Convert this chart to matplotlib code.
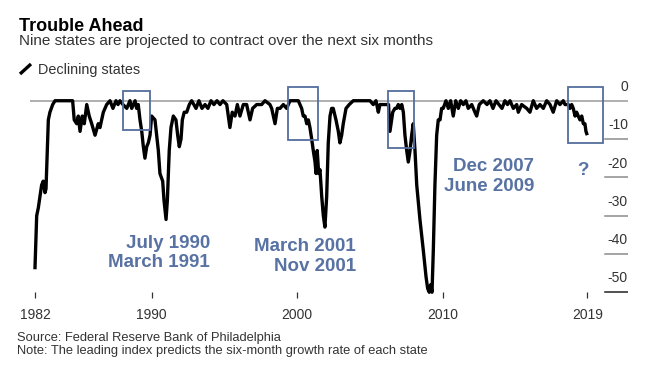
import matplotlib
matplotlib.use('Agg')
import matplotlib.pyplot as plt
import matplotlib.transforms as mtransforms
from matplotlib.patches import Rectangle

plt.rcParams['font.family'] = ['Liberation Sans', 'DejaVu Sans']

# ---------------- data ----------------
years = [
    1981.97, 1982.09, 1982.20, 1982.43, 1982.54, 1982.66, 1982.73, 1982.89, 1983.00, 1983.19,
    1983.35, 1984.56, 1984.67, 1984.84, 1984.95, 1985.07, 1985.22, 1985.36, 1985.53, 1985.70,
    1985.87, 1986.10, 1986.32, 1986.44, 1986.67, 1986.90, 1987.13, 1987.33, 1987.54, 1987.68,
    1987.81, 1988.02, 1988.28, 1988.50, 1988.62, 1988.85, 1988.96, 1989.07, 1989.19, 1989.31,
    1989.42, 1989.53, 1989.65, 1989.76, 1989.88, 1989.99, 1990.22, 1990.45, 1990.56, 1990.75,
    1990.84, 1990.98, 1991.07, 1991.20, 1991.32, 1991.48, 1991.66, 1991.78, 1991.89, 1992.01,
    1992.10, 1992.23, 1992.40, 1992.58, 1992.74, 1993.04, 1993.24, 1993.45, 1993.66, 1993.86,
    1994.07, 1994.27, 1994.48, 1994.69, 1994.89, 1995.15, 1995.37, 1995.53, 1995.72, 1995.88,
    1996.06, 1996.29, 1996.52, 1996.75, 1996.93, 1997.21, 1997.55, 1997.78, 1998.12, 1998.24,
    1998.47, 1998.63, 1998.81, 1999.04, 1999.27, 1999.50, 1999.84, 2000.07, 2000.30, 2000.41,
    2000.53, 2000.65, 2000.76, 2000.87, 2000.99, 2001.10, 2001.22, 2001.29, 2001.37, 2001.47,
    2001.56, 2001.68, 2001.79, 2001.90, 2002.02, 2002.13, 2002.25, 2002.36, 2002.47, 2002.66,
    2002.82, 2002.93, 2003.05, 2003.16, 2003.35, 2003.57, 2003.85, 2005.00, 2005.22, 2005.41,
    2005.57, 2005.68, 2006.03, 2006.27, 2006.37, 2006.56, 2006.71, 2006.83, 2006.94, 2007.06,
    2007.18, 2007.29, 2007.40, 2007.52, 2007.63, 2007.75, 2007.86, 2007.97, 2008.09, 2008.21,
    2008.43, 2008.66, 2008.85, 2008.96, 2009.07, 2009.17, 2009.26, 2009.35, 2009.46, 2009.58,
    2009.69, 2009.81, 2009.92, 2010.03, 2010.22, 2010.38, 2010.54, 2010.72, 2010.89, 2011.07,
    2011.23, 2011.41, 2011.59, 2011.75, 2011.99, 2012.21, 2012.33, 2012.51, 2012.78, 2013.04,
    2013.24, 2013.45, 2013.66, 2013.86, 2014.07, 2014.27, 2014.45, 2014.62, 2014.85, 2015.08,
    2015.19, 2015.42, 2015.77, 2015.99, 2016.22, 2016.45, 2016.68, 2016.91, 2017.14, 2017.37,
    2017.59, 2017.83, 2018.05, 2018.28, 2018.40, 2018.63, 2018.74, 2018.86, 2018.97, 2019.09,
    2019.20, 2019.31, 2019.43, 2019.55, 2019.66, 2019.77, 2019.84, 2019.93,
]
declining_states = [
    -44, -30, -28, -22, -21, -24, -23, -5, -3, -1,
    0, 0, -5, -6, -4, -8, -4, -6, -1, -4,
    -6, -9, -6, -7, -3, -1, 0, -2, 0, -1,
    0, -1, -2, 0, -2, 0, -2, -1, -5, -8,
    -12, -15, -12, -11, -9, -4, -5, -13, -19, -21,
    -26, -31, -26, -13, -7, -4, -5, -9, -12, -10,
    -5, -3, -3, -1, 0, -2, 0, -2, -1, -2,
    0, -1, 0, -1, 0, -1, -7, -3, -4, -1,
    -4, -1, -1, -5, -2, -1, -1, 0, -1, -2,
    -6, -2, -2, -1, -2, 0, 0, 0, -2, -4,
    -4, -6, -5, -7, -10, -13, -16, -19, -13, -19,
    -18, -25, -30, -33, -25, -11, -4, -2, -2, -5,
    -8, -11, -9, -6, -2, -1, 0, 0, -1, 0,
    -3, -1, -1, -1, -8, -3, -2, -2, -1, -2,
    -1, -3, -9, -13, -16, -13, -9, -6, -13, -22,
    -31, -39, -46, -49, -50, -48, -50, -39, -22, -9,
    -5, -5, -2, -2, 0, -2, 0, -4, 0, -2,
    0, -1, 0, -2, -1, -3, -4, -1, 0, -1,
    0, -2, 0, -1, -2, 0, -1, 0, -2, -1,
    -3, -1, -2, -3, 0, -2, -1, -2, 0, -1,
    -3, 0, -1, 0, -1, -1, -2, -1, -2, -4,
    -3, -4, -5, -4, -6, -6, -8, -9,
]

x_tick_years = [1982, 1990, 2000, 2010]
x_tick_labels = ['1982', '1990', '2000', '2010', '2019']
y_ticks = [0, -10, -20, -30, -40, -50]
y_tick_labels = ['0', '-10', '-20', '-30', '-40', '-50']

# highlighted windows: (start year, end year, top, bottom)
box_start = [1988.00, 1999.38, 2006.25, 2018.58]
box_end = [1989.88, 2001.44, 2008.04, 2021.03]
box_top = [2.6, 3.65, 2.6, 3.65]
box_bottom = [-7.7, -10.3, -12.4, -11.1]

recession_labels = ['July 1990\nMarch 1991', 'March 2001\nNov 2001', 'Dec 2007\nJune 2009', '?']

title = 'Trouble Ahead'
subtitle = 'Nine states are projected to contract over the next six months'
legend_label = 'Declining states'
source = 'Source: Federal Reserve Bank of Philadelphia'
note = 'Note: The leading index predicts the six-month growth rate of each state'

# ---------------- figure ----------------
W, H = 655, 371
fig = plt.figure(figsize=(W / 100, H / 100), dpi=100)
fig.patch.set_facecolor('white')


def fx(px):
    return px / W


def fy(py):
    return 1 - py / H


ax_left, ax_right, ax_top, ax_bottom = 30, 628, 85.4, 298.4
ax = fig.add_axes([fx(ax_left), fy(ax_bottom), (ax_right - ax_left) / W, (ax_bottom - ax_top) / H])
ax.set_xlim(1981.63, 2022.73)
ax.set_ylim(-51.6, 4.0)
for s in ax.spines.values():
    s.set_visible(False)

BLUE_TEXT = '#5872a3'
BLUE_BOX = '#536d9c'
GRID = '#8c8c8c'
TXT = '#333333'

# zero line and right-side tick lines
ax.axhline(0, xmin=0, xmax=1, color='#9a9a9a', lw=1.1, zorder=1)
for v in y_ticks[1:]:
    ax.axhline(v, xmin=(605 - ax_left) / (ax_right - ax_left), xmax=1,
               color=('#222222' if v == y_ticks[-1] else GRID), lw=1.1, zorder=1)

trans = mtransforms.blended_transform_factory(ax.transAxes, ax.transData)
for v, lab in zip(y_ticks, y_tick_labels):
    ax.text(1.0, v + 3.6, lab, transform=trans, ha='right', va='center',
            fontsize=10, color=TXT)
ax.set_yticks([])

# main series
ax.plot(years, declining_states, color='black', lw=2.4, solid_joinstyle='round',
        solid_capstyle='butt', zorder=3)

# x ticks
ax.set_xticks(x_tick_years + [years[-1]])
ax.set_xticklabels(x_tick_labels)
ax.tick_params(axis='x', direction='in', length=4.3, width=0.9, color='#333333',
               pad=7.2, labelsize=10, labelcolor=TXT)

# boxes
for x0, x1, t, b in zip(box_start, box_end, box_top, box_bottom):
    ax.add_patch(Rectangle((x0, b), x1 - x0, t - b, fill=False, edgecolor=BLUE_BOX,
                           lw=1.3, zorder=4, clip_on=False))

# recession annotations
ann_x = [1994.0, 2004.03, 2016.27, 2019.64]
ann_y = [-39.8, -40.7, -19.8, -18.1]
ann_ha = ['right', 'right', 'right', 'center']
for txt, x, y, ha in zip(recession_labels, ann_x, ann_y, ann_ha):
    ax.text(x, y, txt, ha=ha, va='center', fontsize=13.5, fontweight='bold',
            color=BLUE_TEXT, linespacing=1.2, zorder=5)

# header
fig.text(fx(19), fy(30.7), title, fontsize=13, fontweight='bold', color='black', va='baseline')
fig.text(fx(19), fy(44.8), subtitle, fontsize=11, color=TXT, va='baseline')
fig.lines.append(plt.Line2D([fx(20), fx(31)], [fy(74), fy(64)], transform=fig.transFigure,
                            color='black', lw=2.4, solid_capstyle='butt'))
fig.text(fx(38), fy(74), legend_label, fontsize=10.4, color=TXT, va='baseline')

# footer
fig.text(fx(17.3), fy(341), source, fontsize=9.3, color=TXT, va='baseline')
fig.text(fx(17.3), fy(354.3), note, fontsize=9.3, color=TXT, va='baseline')

fig.savefig('out.png', dpi=100, facecolor='white')
